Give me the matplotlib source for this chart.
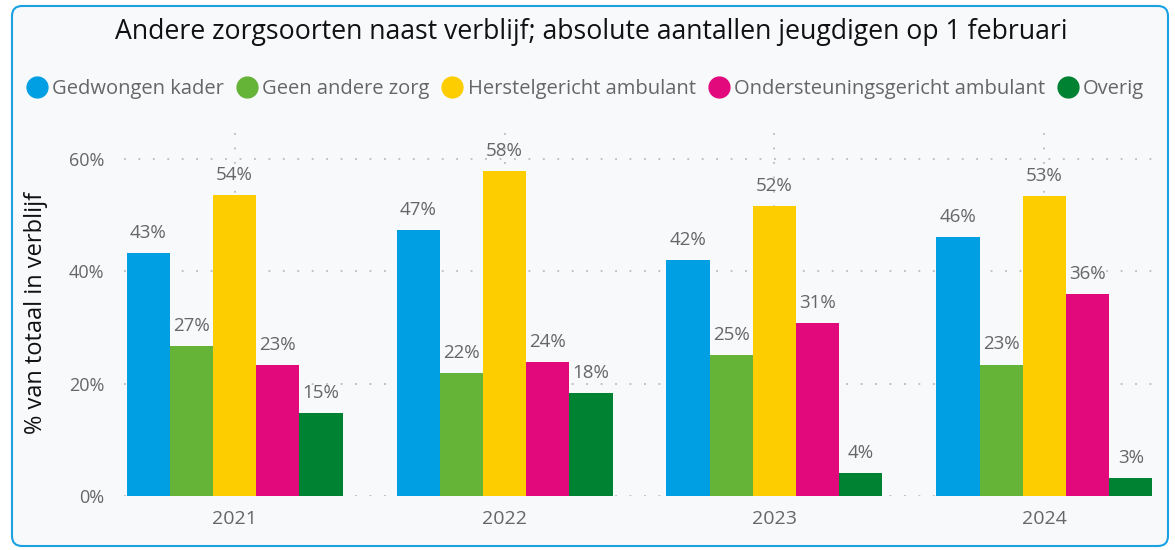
import matplotlib
matplotlib.use("Agg")
import matplotlib.pyplot as plt
import numpy as np
from matplotlib.patches import FancyBboxPatch
from matplotlib.lines import Line2D

plt.rcParams['font.family'] = ['Open Sans', 'DejaVu Sans']

years = ['2021', '2022', '2023', '2024']
series = ['Gedwongen kader', 'Geen andere zorg', 'Herstelgericht ambulant',
          'Ondersteuningsgericht ambulant', 'Overig']
gedwongen = [43.3, 47.4, 42.0, 46.1]
geen = [26.7, 21.9, 25.1, 23.4]
herstel = [53.6, 57.9, 51.6, 53.4]
onderst = [23.3, 23.9, 30.8, 36.0]
overig = [14.8, 18.3, 4.1, 3.2]
values = [gedwongen, geen, herstel, onderst, overig]
colors = ['#009FE3', '#65B337', '#FDCD00', '#E2097D', '#008233']

fig = plt.figure(figsize=(11.75, 5.5), dpi=100)
fig.patch.set_facecolor('white')
border = FancyBboxPatch((0.12, 0.04), 11.56, 5.40,
                        boxstyle="round,pad=0,rounding_size=0.1",
                        transform=fig.dpi_scale_trans,
                        facecolor='#F7F9FB', edgecolor='#1BA1E2', linewidth=1.5,
                        zorder=-10)
fig.add_artist(border)

ax = fig.add_axes([124/1175, 1-496/550, 1031/1175, 366/550])
ax.set_facecolor('none')
ax.set_zorder(1)

x = np.arange(len(years))
w = 0.16
for i, (vals, c) in enumerate(zip(values, colors)):
    pos = x - 0.4 + w/2 + i*w
    ax.bar(pos, vals, width=w, color=c, zorder=3, linewidth=0)
    for p, v in zip(pos, vals):
        ax.text(p, v + 2.0, f"{round(v):d}%", ha='center', va='bottom',
                fontsize=13.5, color='#666666', zorder=4)

ax.set_xlim(-0.41, 3.41)
ax.set_ylim(0, 65.2)
ax.set_yticks([0, 20, 40, 60])
ax.set_yticklabels(['0%', '20%', '40%', '60%'])
ax.set_xticks(x)
ax.set_xticklabels(years)
ax.tick_params(axis='both', length=0, labelcolor='#666666')
ax.tick_params(axis='y', pad=14, labelsize=13)
ax.tick_params(axis='x', pad=10, labelsize=14)
ax.grid(True, axis='both', linestyle=(0, (1, 7)), color='#BBBBBB', linewidth=1.3, zorder=0)
for s in ax.spines.values():
    s.set_visible(False)
ax.set_ylabel('% van totaal in verblijf', fontsize=17, color='#111111', labelpad=15)

fig.text(591/1175, 1-32/550, 'Andere zorgsoorten naast verblijf; absolute aantallen jeugdigen op 1 februari',
         ha='center', va='center', fontsize=19.2, color='#111111')

handles = [Line2D([0], [0], marker='o', linestyle='none', markersize=15,
                  markerfacecolor=c, markeredgecolor=c) for c in colors]
fig.legend(handles, series, loc='center', bbox_to_anchor=(586/1175, 1-89/550),
           ncol=5, frameon=False, fontsize=14.5, labelcolor='#666666',
           handletextpad=0.3, columnspacing=0.7, handlelength=0.9)

fig.savefig('out.png', dpi=100, facecolor='white')
